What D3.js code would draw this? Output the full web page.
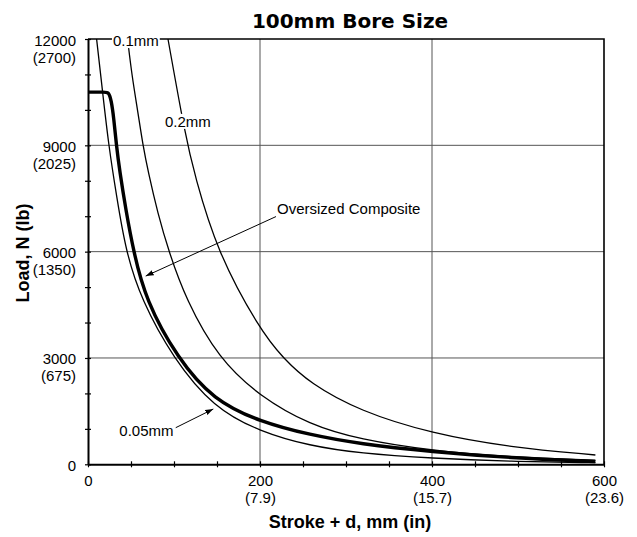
<!DOCTYPE html>
<html lang="en">
<head>
<meta charset="UTF-8">
<title>100mm Bore Size</title>
<script src="https://d3js.org/d3.v7.min.js"></script>
<style>
    body {
        margin: 0;
        background: #fff;
        font-family: "Liberation Sans", Arial, sans-serif;
    }
    .grid line { stroke: #555; stroke-width: 1; }
    .axis path, .axis line { stroke: #000; }
    .axis path { stroke-width: 2; }
    .axis line { stroke-width: 1.2; }
    .axis text { font-size: 15px; fill: #000; font-family: "Liberation Sans", Arial, sans-serif; }
    .curve { fill: none; stroke: #000; stroke-width: 1.3; }
    .curve.thick { stroke-width: 3.4; }
    .note { font-size: 15px; fill: #000; }
</style>
</head>
<body>
<svg width="637" height="537"></svg>
<script>
// axis tick values and the inch / pound labels under them
const strokeTicks = [0, 200, 400, 600];
const strokeInches = ["", "(7.9)", "(15.7)", "(23.6)"];
const loadTicks = [0, 3000, 6000, 9000, 12000];
const loadPounds = ["", "(675)", "(1350)", "(2025)", "(2700)"];

// curves: stroke + d (mm) and load (N)
const stroke005 = [10, 17, 24, 33, 44, 62, 99, 146, 200, 258, 316, 400, 491, 590];
const load005   = [12000, 10500, 9000, 7600, 6000, 4640, 2990, 1600, 920, 520, 310, 170, 80, 45];

const strokeComp = [0, 20, 24, 27, 30, 33, 37, 44, 53, 67, 104, 146, 200, 258, 316, 400, 491, 590];
const loadComp   = [10500, 10500, 10500, 10280, 9770, 9000, 8250, 7180, 6000, 4640, 2990, 1810, 1200, 830, 575, 355, 180, 75];

const stroke01 = [46, 51, 58, 64, 70, 81, 94, 114, 151.5, 200, 258, 316, 400, 491, 590];
const load01   = [12000, 10980, 9940, 8980, 8250, 7090, 6000, 4640, 2990, 1910, 1110, 700, 380, 204, 119];

const stroke02 = [93, 113, 124, 150, 200, 227, 258, 316, 400, 491, 590];
const load02   = [12000, 9290, 8160, 6000, 3790, 2990, 2285, 1500, 865, 480, 262];

const series = [
    {name: "0.05mm", stroke: stroke005, load: load005, thick: false},
    {name: "0.1mm", stroke: stroke01, load: load01, thick: false},
    {name: "0.2mm", stroke: stroke02, load: load02, thick: false},
    {name: "Oversized Composite", stroke: strokeComp, load: loadComp, thick: true}
];

const svg = d3.select("svg");
const margin = {top: 39, right: 33, bottom: 72.7, left: 88};
const width = svg.attr("width") - margin.left - margin.right;
const height = svg.attr("height") - margin.top - margin.bottom;
const g = svg.append("g").attr("transform", `translate(${margin.left},${margin.top})`);

const x = d3.scaleLinear().domain([0, 600]).range([0, width]);
const y = d3.scaleLinear().domain([0, 12000]).range([height, 0]);

// title
svg.append("text")
    .attr("x", 350).attr("y", 28)
    .attr("text-anchor", "middle")
    .style("font-family", "'DejaVu Sans', sans-serif")
    .style("font-weight", "bold")
    .style("font-size", "20px")
    .text("100mm Bore Size");

// grid
const grid = g.append("g").attr("class", "grid");
grid.selectAll(".vx").data([200, 400]).enter().append("line")
    .attr("x1", d => x(d)).attr("x2", d => x(d))
    .attr("y1", 0).attr("y2", height);
grid.selectAll(".hy").data([3000, 6000, 9000]).enter().append("line")
    .attr("x1", 0).attr("x2", width)
    .attr("y1", d => y(d)).attr("y2", d => y(d));

// frame top and right
g.append("path")
    .attr("d", `M0,0H${width}V${height}`)
    .attr("fill", "none").attr("stroke", "#000").attr("stroke-width", 1.6);

// curves (smoothed like the spreadsheet lines)
const line = d3.line().curve(d3.curveBasis);
series.forEach(s => {
    const pts = s.stroke.map((v, i) => [x(v), y(s.load[i])]);
    g.append("path")
        .attr("class", s.thick ? "curve thick" : "curve")
        .attr("d", line(pts));
});

// arrows
svg.append("defs").append("marker")
    .attr("id", "arrow")
    .attr("viewBox", "0 0 10 10")
    .attr("refX", 10).attr("refY", 5)
    .attr("markerWidth", 8).attr("markerHeight", 8)
    .attr("orient", "auto")
    .append("path").attr("d", "M0,1.5L10,5L0,8.5z").attr("fill", "#000");

const arrows = [
    {from: [218.6, 6990], to: [67.1, 5310]},
    {from: [102, 1033], to: [145.7, 1560]}
];
g.selectAll(".arrow").data(arrows).enter().append("line")
    .attr("x1", d => x(d.from[0])).attr("y1", d => y(d.from[1]))
    .attr("x2", d => x(d.to[0])).attr("y2", d => y(d.to[1]))
    .attr("stroke", "#000").attr("stroke-width", 1)
    .attr("marker-end", "url(#arrow)");

// curve labels, the thin lines are hidden behind their white boxes
const notes = [
    {text: "0.1mm", at: [29, 11800], box: true},
    {text: "0.2mm", at: [89.5, 9520], box: true},
    {text: "0.05mm", at: [36.4, 800], box: false},
    {text: "Oversized Composite", at: [219.8, 7060], box: false}
];
notes.forEach(n => {
    const bg = g.append("rect").attr("fill", "#fff");
    const t = g.append("text").attr("class", "note")
        .attr("x", x(n.at[0])).attr("y", y(n.at[1]))
        .text(n.text);
    if (n.box) {
        const b = t.node().getBBox();
        bg.attr("x", b.x - 1).attr("y", b.y + 1).attr("width", b.width + 2).attr("height", b.height - 2);
    } else {
        bg.remove();
    }
});

// x axis: minor ticks every 50, labels at 0/200/400/600
const xMinor = g.append("g").attr("class", "axis")
    .attr("transform", `translate(0,${height})`)
    .call(d3.axisBottom(x).tickValues(d3.range(0, 601, 50)).tickSize(3).tickSizeOuter(0).tickFormat(""));
xMinor.selectAll(".tick line").attr("y1", -3);

const xLab = g.append("g").attr("class", "axis")
    .attr("transform", `translate(0,${height})`)
    .call(d3.axisBottom(x).tickValues(strokeTicks).tickSize(0));
xLab.select(".domain").remove();
xLab.selectAll(".tick text").each(function(d, i) {
    const t = d3.select(this).attr("dy", null).text(null);
    t.append("tspan").attr("x", 0).attr("y", 22).text(d);
    t.append("tspan").attr("x", 0).attr("y", 39).text(strokeInches[i]);
});

// y axis: minor ticks every 1000, labels every 3000
const yMinor = g.append("g").attr("class", "axis")
    .call(d3.axisLeft(y).tickValues(d3.range(0, 12001, 1000)).tickSize(3).tickSizeOuter(0).tickFormat(""));
yMinor.selectAll(".tick line").attr("x1", 3);

const yLab = g.append("g").attr("class", "axis")
    .call(d3.axisLeft(y).tickValues(loadTicks).tickSize(0));
yLab.select(".domain").remove();
yLab.selectAll(".tick text").each(function(d, i) {
    const t = d3.select(this).attr("dy", null).text(null);
    t.append("tspan").attr("x", -12).attr("y", 6).text(d);
    t.append("tspan").attr("x", -12).attr("y", 23).text(loadPounds[i]);
});

// axis titles
svg.append("text")
    .attr("x", 350).attr("y", 528)
    .attr("text-anchor", "middle")
    .style("font-weight", "bold").style("font-size", "18px")
    .text("Stroke + d, mm (in)");

svg.append("text")
    .attr("transform", "translate(29,253) rotate(-90)")
    .attr("text-anchor", "middle")
    .style("font-weight", "bold").style("font-size", "18px")
    .text("Load, N (lb)");
</script>
</body>
</html>
